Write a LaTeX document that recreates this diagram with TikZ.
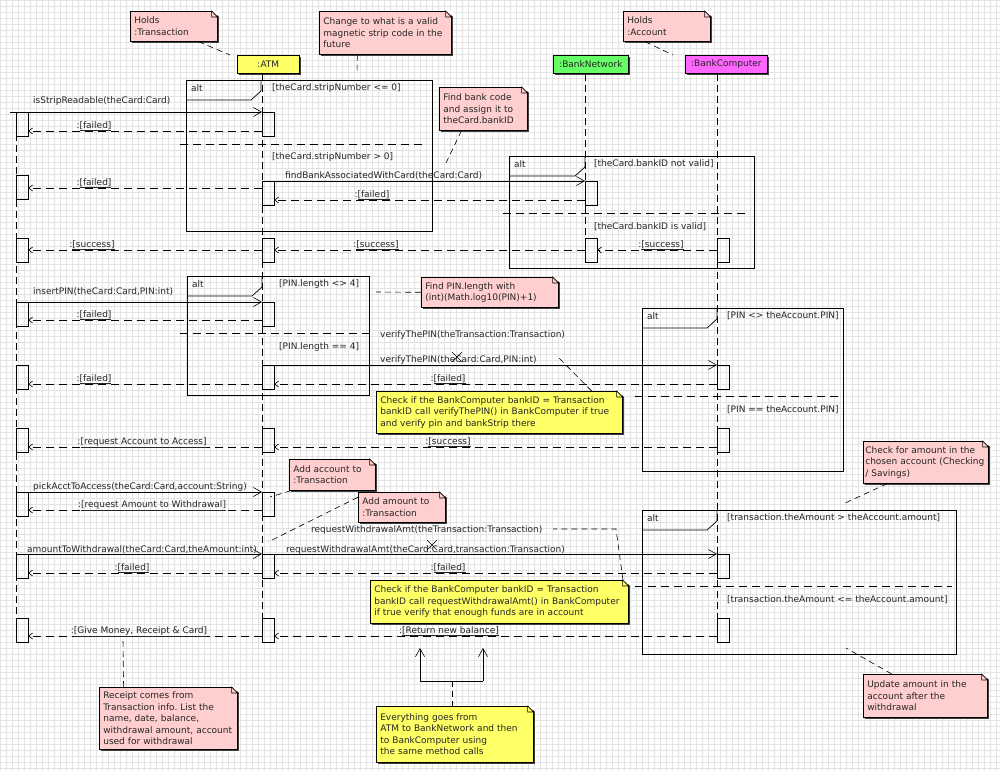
\documentclass[tikz,border=0pt]{standalone}
\usepackage{fontspec}
\setmainfont{DejaVu Sans}
\frenchspacing
\usetikzlibrary{arrows.meta}
\usetikzlibrary{shapes.misc}
\usetikzlibrary{shadows}

\definecolor{notepink}{RGB}{255,206,206}
\definecolor{noteyellow}{RGB}{255,255,102}
\definecolor{headgreen}{RGB}{102,255,102}
\definecolor{headmagenta}{RGB}{255,102,255}

\tikzset{
  gridline/.style={draw=black!11, line width=0.4pt, xstep=6pt, ystep=6pt},
  boxshadow/.style={drop shadow={shadow xshift=1.2pt, shadow yshift=-1.2pt, fill=black!75, opacity=1}},
  head/.style={draw, line width=0.7pt, anchor=north west, minimum height=18pt, inner sep=0pt, boxshadow},
  lifeline/.style={line width=0.6pt, dash pattern=on 7pt off 4pt},
  act/.style={draw, line width=0.6pt, anchor=north west, minimum width=11.5pt, minimum height=24pt, inner sep=0pt},
  altbox/.style={draw, line width=0.7pt, anchor=north west, inner sep=0pt},
  tabline/.style={line width=0.7pt},
  altsep/.style={line width=0.7pt, dash pattern=on 8pt off 5pt},
  guard/.style={anchor=west, inner sep=0pt},
  call/.style={line width=0.6pt, -{Straight Barb[length=8pt,width=9pt]}},
  ret/.style={line width=0.6pt, dash pattern=on 8pt off 5pt, -{Straight Barb[length=4pt,width=6pt]}},
  msg/.style={anchor=base west, inner sep=0pt},
  retlab/.style={anchor=base, inner sep=0pt},
  notebox/.style={draw, line width=0.6pt, anchor=north west, align=left, inner xsep=4pt, inner ysep=1pt, boxshadow},
  pinknote/.style={notebox, fill=notepink},
  yellownote/.style={notebox, fill=noteyellow},
  noteline/.style={line width=0.6pt, dash pattern=on 6pt off 4pt},
  strike/.style={draw, cross out, minimum size=9pt, inner sep=0pt, line width=0.6pt},
}

\begin{document}
\begin{tikzpicture}[x=1pt, y=-1pt, every node/.style={font=\fontsize{9}{11.5}\selectfont, text=black!85}]
        \useasboundingbox (0,0) rectangle (1000,771);
        \fill[white] (0,0) rectangle (1000,771);
        \draw[gridline] (0,771) grid (1000,0);

        % Lifeline heads
        \node[head, fill=noteyellow, minimum width=62pt] (atm) at (237,55) {:ATM};
        \node[head, fill=headgreen, minimum width=75pt] (bn) at (553,55) {:BankNetwork};
        \node[head, fill=headmagenta, minimum width=82pt] (bc) at (685,55) {:BankComputer};

        % Activations, row by row
        \node[act] (act1) at (16,112) {};
        \node[act] (atm1) at (262,112) {};

        \node[act] (act2) at (16,175) {};
        \node[act] (atm2) at (262,181) {};
        \node[act] (bn2) at (585,181) {};

        \node[act] (act3) at (16,238) {};
        \node[act] (atm3) at (262,238) {};
        \node[act] (bn3) at (585,238) {};
        \node[act] (bc3) at (717,238) {};

        \node[act] (act4) at (16,302) {};
        \node[act] (atm4) at (262,302) {};

        \node[act] (act5) at (16,365) {};
        \node[act] (atm5) at (262,365) {};
        \node[act] (bc5) at (717,365) {};

        \node[act] (act6) at (16,428) {};
        \node[act] (atm6) at (262,428) {};
        \node[act] (bc6) at (717,428) {};

        \node[act] (act7) at (16,492) {};
        \node[act] (atm7) at (262,492) {};

        \node[act] (act8) at (16,554) {};
        \node[act] (atm8) at (262,554) {};
        \node[act] (bc8) at (717,554) {};

        \node[act] (act9) at (16,618) {};
        \node[act] (atm9) at (262,618) {};
        \node[act] (bc9) at (717,618) {};

        % Lifelines
        \draw[lifeline] (act1.north west) -- (act9.south west);
        \draw[lifeline] (atm.south -| atm1.west) -- (atm9.south west);
        \draw[lifeline] (bn.south -| bn2.west) -- (bn3.south west);
        \draw[lifeline] (bc.south -| bc3.west) -- (bc9.south west);

        % alt frames
        \node[altbox, minimum width=246pt, minimum height=151pt] (alt1) at (186,80) {};
        \draw[tabline] (alt1.north west) ++(0,20) -- ++(65,0) -- ++(10,-9) -- ++(0,-11);
        \node[guard] (alt1lab) at ([xshift=5pt,yshift=-8pt]alt1.north west) {alt};
        \node[guard] (g1a) at (272,88) {[theCard.stripNumber <= 0]};
        \draw[altsep] (180,144) -- (422,144);
        \node[guard] (g1b) at (272,157) {[theCard.stripNumber > 0]};

        \node[altbox, minimum width=245pt, minimum height=112pt] (alt2) at (509,156) {};
        \draw[tabline] (alt2.north west) ++(0,20) -- ++(66,0) -- ++(10,-9) -- ++(0,-11);
        \node[guard] (alt2lab) at ([xshift=5pt,yshift=-8pt]alt2.north west) {alt};
        \node[guard] (g2a) at (594,164) {[theCard.bankID not valid]};
        \draw[altsep] (503,213) -- (745,213);
        \node[guard] (g2b) at (594,227) {[theCard.bankID is valid]};

        \node[altbox, minimum width=182pt, minimum height=119pt] (alt3) at (187,276) {};
        \draw[tabline] (alt3.north west) ++(0,20) -- ++(65,0) -- ++(10,-9) -- ++(0,-11);
        \node[guard] (alt3lab) at ([xshift=5pt,yshift=-8pt]alt3.north west) {alt};
        \node[guard] (g3a) at (279,284) {[PIN.length <> 4]};
        \draw[altsep] (180,333) -- (372,333);
        \node[guard] (g3b) at (279,347) {[PIN.length == 4]};

        \node[altbox, minimum width=201pt, minimum height=163pt] (alt4) at (642,308) {};
        \draw[tabline] (alt4.north west) ++(0,20) -- ++(65,0) -- ++(10,-9) -- ++(0,-11);
        \node[guard] (alt4lab) at ([xshift=5pt,yshift=-8pt]alt4.north west) {alt};
        \node[guard] (g4a) at (727,316) {[PIN <> theAccount.PIN]};
        \draw[altsep] (635,396) -- (843,396);
        \node[guard] (g4b) at (727,410) {[PIN == theAccount.PIN]};

        \node[altbox, minimum width=314pt, minimum height=144pt] (alt5) at (642,510) {};
        \draw[tabline] (alt5.north west) ++(0,20) -- ++(65,0) -- ++(10,-9) -- ++(0,-11);
        \node[guard] (alt5lab) at ([xshift=5pt,yshift=-8pt]alt5.north west) {alt};
        \node[guard] (g5a) at (727,518) {[transaction.theAmount > theAccount.amount]};
        \draw[altsep] (635,586) -- (952,586);
        \node[guard] (g5b) at (727,600) {[transaction.theAmount <= theAccount.amount]};

        % Calls
        \coordinate (found) at (10,112);
        \draw[call] (found) -- (atm1.north west);
        \node[msg] (m1) at (33,103) {isStripReadable(theCard:Card)};
        \draw[call] (atm2.north west) -- (bn2.north west);
        \node[msg] (m2) at (285,178) {findBankAssociatedWithCard(theCard:Card)};
        \draw[call] (act4.north west) -- (atm4.north west);
        \node[msg] (m3) at (33,294) {insertPIN(theCard:Card,PIN:int)};
        \node[msg] (m4old) at (380,337) {verifyThePIN(theTransaction:Transaction)};
        \draw[call] (atm5.north west) -- (bc5.north west);
        \node[msg] (m4) at (380,362) {verifyThePIN(theCard:Card,PIN:int)};
        \node[strike] (x1) at (457,357) {};
        \draw[call] (act7.north west) -- (atm7.north west);
        \node[msg] (m5) at (33,489) {pickAcctToAccess(theCard:Card,account:String)};
        \draw[call] (act8.north west) -- (atm8.north west);
        \node[msg] (m6) at (27,552) {amountToWithdrawal(theCard:Card,theAmount:int)};
        \node[msg] (m7old) at (311,532) {requestWithdrawalAmt(theTransaction:Transaction)};
        \draw[call] (atm8.north west) -- (bc8.north west);
        \node[msg] (m7) at (286,552) {requestWithdrawalAmt(theCard:Card,transaction:Transaction)};
        \node[strike] (x2) at (432,545) {};

        % Returns
        \draw[ret] (atm1.west |- 0,131) -- (act1.east |- 0,131);
        \node[retlab] (r1) at (94,128) {:\underline{[failed]}};
        \draw[ret] (atm2.west |- 0,188) -- (act2.east |- 0,188);
        \node[retlab] (r2) at (94,185) {:\underline{[failed]}};
        \draw[ret] (bn2.west |- 0,200) -- (atm2.east |- 0,200);
        \node[retlab] (r3) at (372,197) {:\underline{[failed]}};
        \draw[ret] (bc3.west |- 0,250) -- (bn3.east |- 0,250);
        \node[retlab] (r4) at (661,247) {:\underline{[success]}};
        \draw[ret] (bn3.west |- 0,250) -- (atm3.east |- 0,250);
        \node[retlab] (r5) at (376,247) {:\underline{[success]}};
        \draw[ret] (atm3.west |- 0,250) -- (act3.east |- 0,250);
        \node[retlab] (r6) at (92,247) {:\underline{[success]}};
        \draw[ret] (atm4.west |- 0,320) -- (act4.east |- 0,320);
        \node[retlab] (r7) at (94,317) {:\underline{[failed]}};
        \draw[ret] (bc5.west |- 0,384) -- (atm5.east |- 0,384);
        \node[retlab] (r8) at (448,381) {:\underline{[failed]}};
        \draw[ret] (atm5.west |- 0,384) -- (act5.east |- 0,384);
        \node[retlab] (r9) at (94,381) {:\underline{[failed]}};
        \draw[ret] (bc6.west |- 0,447) -- (atm6.east |- 0,447);
        \node[retlab] (r10) at (448,444) {:\underline{[success]}};
        \draw[ret] (atm6.west |- 0,447) -- (act6.east |- 0,447);
        \node[retlab] (r11) at (142,444) {:\underline{[request Account to Access]}};
        \draw[ret] (atm7.west |- 0,510) -- (act7.east |- 0,510);
        \node[retlab] (r12) at (152,507) {:\underline{[request Amount to Withdrawal]}};
        \draw[ret] (bc8.west |- 0,573) -- (atm8.east |- 0,573);
        \node[retlab] (r13) at (448,570) {:\underline{[failed]}};
        \draw[ret] (atm8.west |- 0,573) -- (act8.east |- 0,573);
        \node[retlab] (r14) at (132,570) {:\underline{[failed]}};
        \draw[ret] (bc9.west |- 0,636) -- (atm9.east |- 0,636);
        \node[retlab] (r15) at (449,633) {:\underline{[Return new balance]}};
        \draw[ret] (atm9.west |- 0,636) -- (act9.east |- 0,636);
        \node[retlab] (r16) at (139,633) {:\underline{[Give Money, Receipt \& Card]}};

        % Bracket under the balance return
        \coordinate (braceL) at (420,681);
        \coordinate (braceR) at (483,681);
        \coordinate (braceMid) at (452,681);
        \coordinate (upL) at (420,648);
        \coordinate (upR) at (483,648);
        \draw[call] (braceL) -- (upL);
        \draw[call] (braceR) -- (upR);
        \draw[line width=0.6pt] (braceL) -- (braceR);

        % Notes
        \node[pinknote, text width=79pt, minimum height=30pt] (n1) at (130,11) {Holds\\:Transaction};
        \node[pinknote, text width=124pt, minimum height=43pt] (n2) at (319,11) {Change to what is a valid\\magnetic strip code in the\\future};
        \node[pinknote, text width=79pt, minimum height=30pt] (n3) at (623,11) {Holds\\:Account};
        \node[pinknote, text width=80pt, minimum height=43pt] (n4) at (439,87) {Find bank code\\and assign it to\\theCard.bankID};
        \node[pinknote, text width=129pt, minimum height=30pt] (n5) at (421,277) {Find PIN.length with\\(int)(Math.log10(PIN)+1)};
        \node[yellownote, text width=238pt, minimum height=42pt] (n6) at (376,391) {Check if the BankComputer bankID = Transaction\\bankID call verifyThePIN() in BankComputer if true\\and verify pin and bankStrip there};
        \node[pinknote, inner xsep=2pt, text width=121pt, minimum height=42pt] (n7) at (863,441) {Check for amount in the\\chosen account (Checking\\/ Savings)};
        \node[pinknote, text width=78pt, minimum height=31pt] (n8) at (289,459) {Add account to\\:Transaction};
        \node[pinknote, text width=79pt, minimum height=30pt] (n9) at (358,492) {Add amount to\\:Transaction};
        \node[yellownote, text width=250pt, minimum height=43pt] (n10) at (370,580) {Check if the BankComputer bankID = Transaction\\bankID call requestWithdrawalAmt() in BankComputer\\if true verify that enough funds are in account};
        \node[pinknote, text width=130pt, minimum height=62pt] (n11) at (99,687) {Receipt comes from\\Transaction info. List the\\name, date, balance,\\withdrawal amount, account\\used for withdrawal};
        \node[yellownote, text width=149pt, minimum height=56pt] (n12) at (376,706) {Everything goes from\\ATM to BankNetwork and then\\to BankComputer using\\the same method calls};
        \node[pinknote, text width=116pt, minimum height=43pt] (n13) at (863,674) {Update amount in the\\account after the\\withdrawal};

        % Folded corners of the notes
        \foreach \i in {1,...,13} {
            \fill[white] ([xshift=-6pt]n\i.north east) -- ([xshift=2pt]n\i.north east) -- ([xshift=2pt,yshift=-6pt]n\i.north east) -- cycle;
            \draw[line width=0.6pt] ([xshift=-6pt]n\i.north east) -- ([xshift=-6pt,yshift=-6pt]n\i.north east) -- ([yshift=-6pt]n\i.north east) -- cycle;
        }

        % Note links
        \coordinate (t1) at (230,55);
        \coordinate (t2) at (357,74);
        \coordinate (t3) at (673,55);
        \coordinate (t4) at (446,163);
        \coordinate (t5) at (376,292);
        \coordinate (t6) at (559,358);
        \coordinate (t7) at (843,504);
        \coordinate (t8) at (270,497);
        \coordinate (t9) at (268,542);
        \coordinate (t10bend) at (616,529);
        \coordinate (t10) at (553,529);
        \coordinate (t11) at (123,639);
        \coordinate (t13) at (846,648);
        \draw[noteline] (n1.-32) -- (t1);
        \draw[noteline] (n2.-142) -- (t2);
        \draw[noteline] (n3.-145) -- (t3);
        \draw[noteline] (n4.-135) -- (t4);
        \draw[noteline] (n5.west) -- (t5);
        \draw[noteline] (n6.13) -- (t6);
        \draw[noteline] (n7.-151) -- (t7);
        \draw[noteline] (n8.-159) -- (t8);
        \draw[noteline] (n9.167) -- (t9);
        \draw[noteline] (n10.10) -- (t10bend) -- (t10);
        \draw[noteline] (n11.145) -- (t11);
        \draw[noteline] (braceMid) -- (braceMid |- n12.north);
        \draw[noteline] (n13.147) -- (t13);
    \end{tikzpicture}
\end{document}
